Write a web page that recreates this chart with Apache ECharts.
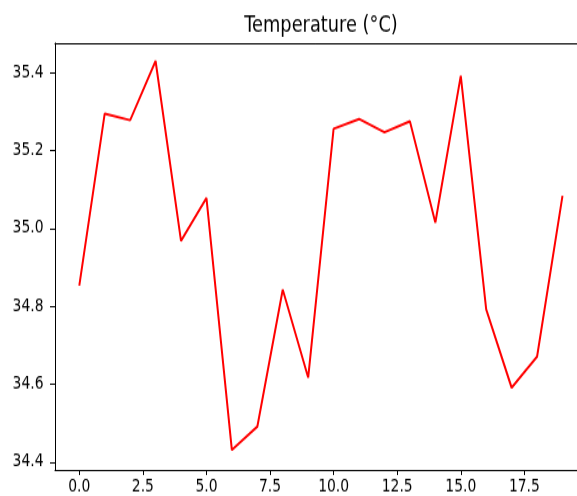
<!DOCTYPE html>
<html><head><meta charset="utf-8">
<script src="https://cdn.jsdelivr.net/npm/echarts@6/dist/echarts.min.js"></script>
<style>
html,body{margin:0;padding:0;background:#fff;overflow:hidden;width:577px;height:496px}
#c{width:577px;height:390.5px;transform:scale(1,1.27);transform-origin:0 0}
</style>
</head><body><div id="c"></div>
<script>
const xValues = [0,1,2,3,4,5,6,7,8,9,10,11,12,13,14,15,16,17,18,19];
const temps = [34.853,35.295,35.278,35.43,34.968,35.078,34.431,34.491,34.843,34.617,35.256,35.281,35.247,35.275,35.015,35.392,34.792,34.591,34.671,35.084];
const xTicks = [0,2.5,5,7.5,10,12.5,15,17.5];
const yTicks = [34.4,34.6,34.8,35.0,35.2,35.4];
const titleText = 'Temperature (°C)';

const chart = echarts.init(document.getElementById('c'), null, {renderer:'canvas'});
const font = 'DejaVu Sans';
const axisLineStyle = {color:'#000',width:1};
chart.setOption({
  animation:false,
  title:{text:titleText,left:316,top:6.5,textAlign:'center',
    textStyle:{fontFamily:font,fontSize:17.8,fontWeight:'normal',color:'#000'}},
  grid:{left:55,top:33.9,width:522,height:336.2,show:false},
  xAxis:[{type:'value',min:-0.955,max:19.57,position:'bottom',
    axisLine:{show:true,onZero:false,lineStyle:axisLineStyle},
    axisTick:{show:true,length:3.9,customValues:xTicks,lineStyle:{color:'#000'}},
    axisLabel:{customValues:xTicks,formatter:v=>v.toFixed(1),fontFamily:font,fontSize:13.9,color:'#000',margin:6.5},
    splitLine:{show:false}},
   {type:'value',min:-0.955,max:19.57,position:'top',
    axisLine:{show:true,onZero:false,lineStyle:axisLineStyle},
    axisTick:{show:false},axisLabel:{show:false},splitLine:{show:false}}],
  yAxis:{type:'value',min:34.3795,max:35.476,
    axisLine:{show:true,onZero:false,lineStyle:axisLineStyle},
    axisTick:{show:true,length:5,customValues:yTicks,lineStyle:{color:'#000'}},
    axisLabel:{customValues:yTicks,formatter:v=>v.toFixed(1),fontFamily:font,fontSize:13.9,color:'#000',margin:11.5},
    splitLine:{show:false}},
  series:[{type:'line',xAxisIndex:0,data:xValues.map((x,i)=>[x,temps[i]]),showSymbol:false,
    lineStyle:{color:'#ff0000',width:2},itemStyle:{color:'#ff0000'}}]
});
</script></body></html>
